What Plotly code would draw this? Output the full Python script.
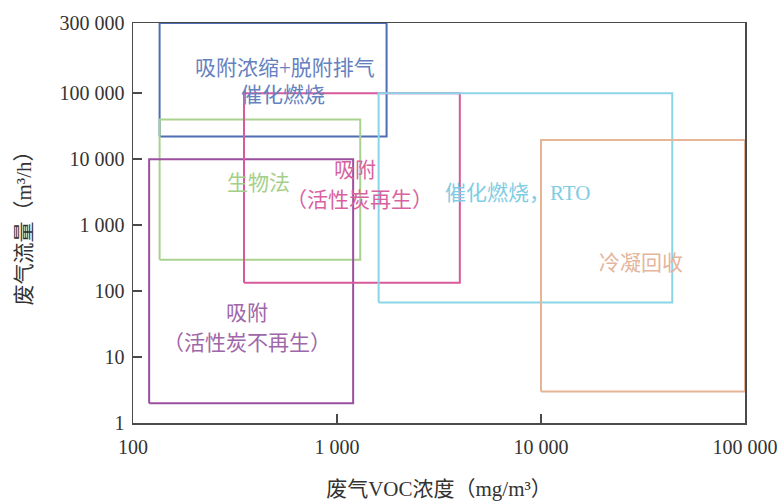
import numpy as np
import plotly.graph_objects as go

# ---------------- data ----------------
methods = ["吸附浓缩+脱附排气催化燃烧", "生物法", "吸附（活性炭不再生）",
           "吸附（活性炭再生）", "催化燃烧，RTO", "冷凝回收"]
conc_min = [135, 135, 120, 350, 1600, 10000]          # mg/m3
conc_max = [1750, 1300, 1200, 4000, 44000, 100000]    # mg/m3
flow_min = [22000, 300, 2, 134, 67, 3]                # m3/h
flow_max = [300000, 40000, 10000, 100000, 100000, 19500]  # m3/h

x_tickvals = [100, 1000, 10000, 100000]
x_ticktext = ["100", "1 000", "10 000", "100 000"]
y_ticktext = ["1", "10", "100", "1 000", "10 000", "100 000", "300 000"]

# The reference axis top carries the label "300 000" but is drawn
# about 1.07 decades above the 100 000 tick.
Y_TOP_LOG = 6.065
Y_TOP = 10 ** Y_TOP_LOG
y_tickvals = [1, 10, 100, 1000, 10000, 100000, Y_TOP]


def axis_y(v):
    return Y_TOP if v == 300000 else v


line_colors = ["#4f6db5", "#a9d18f", "#9a4f9f", "#d65a9c", "#8ad5ea", "#e6b496"]
text_colors = ["#6581c0", "#a3cf88", "#a066aa", "#d8629f", "#7fcde4", "#e6b59d"]

CJK = "Liberation Serif, Noto Sans CJK SC"

fig = go.Figure()
for i, name in enumerate(methods):
    x0, x1 = conc_min[i], conc_max[i]
    y0, y1 = axis_y(flow_min[i]), axis_y(flow_max[i])
    fig.add_trace(go.Scatter(
        x=[x0, x1, x1, x0, x0], y=[y0, y0, y1, y1, y0],
        mode="lines", name=name,
        line=dict(color=line_colors[i], width=2),
        showlegend=False, hoverinfo="skip"))

# box labels: (text, x log10, y log10, colour index)
labels = [
    ("吸附浓缩+脱附排气", 2.745, 5.38, 0),
    ("催化燃烧", 2.735, 4.97, 0),
    ("生物法", 2.613, 3.636, 1),
    ("吸附", 3.088, 3.833, 3),
    ("（活性炭再生）", 3.108, 3.379, 3),
    ("催化燃烧，RTO", 3.887, 3.485, 4),
    ("冷凝回收", 4.49, 2.424, 5),
    ("吸附", 2.559, 1.667, 2),
    ("（活性炭不再生）", 2.559, 1.212, 2),
]
for t, lx, ly, ci in labels:
    fig.add_annotation(x=lx, y=ly, xref="x", yref="y", text=t,
                       showarrow=False,
                       font=dict(family=CJK, size=21, color=text_colors[ci]))

axis_common = dict(
    type="log", showgrid=False, zeroline=False, automargin=False,
    showline=True, linecolor="#4a4a4a", linewidth=1.5, mirror=True,
    ticks="inside", ticklen=9, tickwidth=1.5, tickcolor="#4a4a4a",
    tickfont=dict(family="Liberation Serif", size=20, color="#333333"),
)

fig.update_layout(
    width=783, height=502,
    margin=dict(l=133, r=38, t=23, b=79),
    paper_bgcolor="white", plot_bgcolor="white",
    xaxis=dict(range=[2, 5], tickvals=x_tickvals, ticktext=x_ticktext,
               ticklabelstandoff=5,
               title=dict(text="废气VOC浓度（mg/m³）", standoff=25,
                          font=dict(family=CJK, size=21, color="#333333")),
               **axis_common),
    yaxis=dict(range=[0, Y_TOP_LOG], tickvals=y_tickvals, ticktext=y_ticktext,
               ticklabelstandoff=3,
               title=dict(text="废气流量（m³/h）", standoff=22,
                          font=dict(family=CJK, size=21, color="#333333")),
               **axis_common),
)

fig.write_html("out.html",
               config={"displayModeBar": False, "staticPlot": True},
               post_script="document.body.style.margin='0px';"
                           "document.body.style.overflow='hidden';")
